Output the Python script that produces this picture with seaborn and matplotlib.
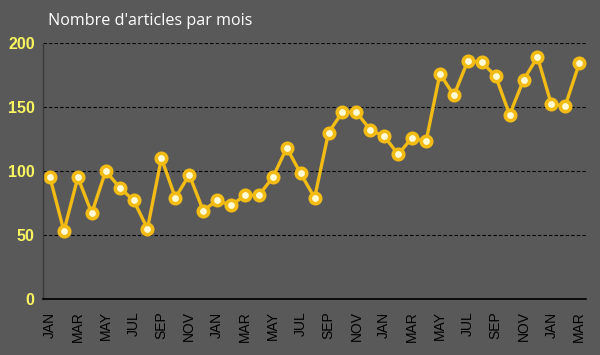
import numpy as np
import pandas as pd
import matplotlib
matplotlib.use("Agg")
import matplotlib.pyplot as plt
import seaborn as sns

# Data: monthly article counts, Jan (year 1) to Mar (year 4)
month_names = ["JAN", "FEB", "MAR", "APR", "MAY", "JUN",
               "JUL", "AUG", "SEP", "OCT", "NOV", "DEC"]
months = [month_names[i % 12] for i in range(39)]
articles = [95, 53, 95, 67, 100, 87, 77, 55, 110, 79, 97, 69,
            77, 73, 81, 81, 95, 118, 98, 79, 130, 146, 146, 132,
            127, 113, 126, 123, 176, 159, 186, 185, 174, 144, 171, 189,
            152, 151, 184]
y_ticks = [0, 50, 100, 150, 200]

df = pd.DataFrame({"idx": range(len(articles)), "month": months, "articles": articles})

bg = "#595959"
gold = "#F2BC14"

sns.set_style("white")
plt.rcParams["font.family"] = ["Liberation Sans", "DejaVu Sans"]

fig = plt.figure(figsize=(6, 3.55), dpi=100, facecolor=bg)
ax = fig.add_axes([0.0717, 0.158, 0.9053, 0.721])
ax.set_facecolor(bg)

sns.lineplot(x="idx", y="articles", data=df, ax=ax, color=gold, linewidth=2.4,
             marker="o", markersize=7.5, markerfacecolor="#FFFBD6",
             markeredgecolor=gold, markeredgewidth=2.6)

ax.set_xlim(-0.5, len(articles) - 0.5)
ax.set_ylim(0, 200)

# gridlines
ax.set_yticks(y_ticks)
for v in y_ticks[1:]:
    ax.axhline(v, color="black", linestyle=(0, (3, 2)), linewidth=0.8, zorder=0)

# x axis: tick marks between months, labels on every other month
ax.set_xticks(np.arange(-0.5, len(articles), 1.0))
ax.set_xticklabels([])
ax.tick_params(axis="x", which="major", length=4, width=1, color="black", direction="out")
lab_pos = list(range(0, len(articles), 2))
ax.set_xticks(lab_pos, minor=True)
ax.set_xticklabels([months[i] for i in lab_pos], minor=True, rotation=90,
                   fontsize=10, color="black")
ax.tick_params(axis="x", which="minor", length=0, pad=9)

ax.set_yticklabels([str(v) for v in y_ticks], fontsize=11.5, fontweight="bold", color="#F8F560")
ax.tick_params(axis="y", length=0, pad=6)

ax.set_xlabel("")
ax.set_ylabel("")

for s in ["top", "right"]:
    ax.spines[s].set_visible(False)
ax.spines["left"].set_color("#3A3A3A")
ax.spines["left"].set_linewidth(1)
ax.spines["bottom"].set_color("black")
ax.spines["bottom"].set_linewidth(1.2)

fig.text(0.08, 0.94, "Nombre d'articles par mois", color="white", fontsize=11.6,
         family="Open Sans", va="center", ha="left")

plt.savefig("out.png", dpi=100, facecolor=bg)
